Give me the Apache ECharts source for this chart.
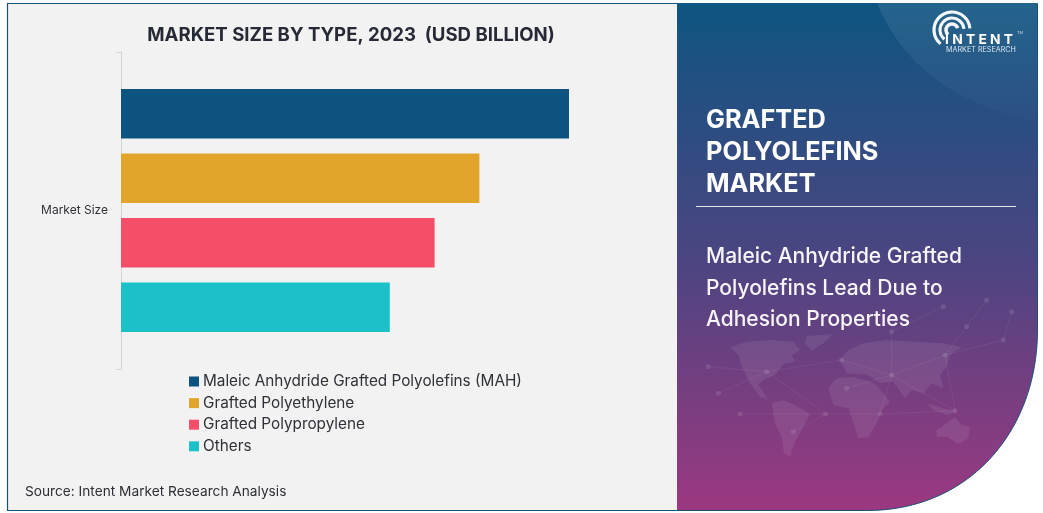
<!DOCTYPE html>
<html><head><meta charset="utf-8">
<style>html,body{margin:0;padding:0;background:#fff}#c{width:1043px;height:513px}</style>
<script src="https://cdn.jsdelivr.net/npm/echarts@6/dist/echarts.min.js"></script></head>
<body><div id="c"></div>
<script>
const categories = ['Market Size'];
const seriesNames = ['Maleic Anhydride Grafted Polyolefins (MAH)','Grafted Polyethylene','Grafted Polypropylene','Others'];
const seriesValues = [10, 8, 7, 6];
const seriesColors = ['#0d5380','#e2a52c','#f44e68','#1bc0c9'];
const chartTitle = 'MARKET SIZE BY TYPE, 2023  (USD BILLION)';
const sourceText = 'Source: Intent Market Research Analysis';
const panelTitle = ['GRAFTED','POLYOLEFINS','MARKET'];
const panelSub = ['Maleic Anhydride Grafted','Polyolefins Lead Due to','Adhesion Properties'];
const FONT = 'Inter';

const z = (x,y)=>[660+x/3,260+y/3];
const bez = (p0,p1,p2,p3,n=40)=>{const o=[];for(let i=0;i<=n;i++){const t=i/n,u=1-t;o.push([0,1].map(k=>u*u*u*p0[k]+3*u*u*t*p1[k]+3*u*t*t*p2[k]+t*t*t*p3[k]));}return o;};
const mapShapes = [
 [[210,262],[260,245],[330,240],[400,245],[420,270],[395,285],[405,305],[370,312],[345,345],[310,360],[295,375],[325,420],[300,410],[270,370],[245,320],[235,285]],
 [[440,228],[520,222],[490,250],[455,272],[435,250]],
 [[335,430],[370,420],[405,435],[450,462],[425,510],[405,545],[390,592],[372,580],[365,530],[345,490]],
 [[505,385],[530,355],[575,350],[625,362],[650,375],[690,425],[665,450],[650,490],[625,530],[595,535],[578,480],[565,445],[520,435]],
 [[540,300],[565,270],[610,250],[680,240],[760,245],[850,250],[905,262],[870,285],[860,320],[840,345],[850,385],[815,370],[790,400],[755,390],[735,415],[700,365],[660,370],[625,345],[560,340]],
 [[830,510],[860,490],[885,470],[905,495],[930,500],[925,535],[895,552],[860,530],[830,530]],
 [[800,430],[850,445],[890,455],[860,465],[820,450]]
];
const nodes = [[145,320],[175,400],[240,462],[320,335],[400,515],[497,462],[545,300],[560,385],[660,462],[695,345],[855,285],[885,452],[1030,240],[980,120],[1055,155],[920,200],[695,215],[850,140]];
const links = [[0,3],[1,3],[3,6],[3,5],[5,8],[5,4],[6,9],[7,9],[8,9],[9,10],[10,11],[10,12],[10,15],[9,16],[15,13],[12,14],[8,11],[2,5],[16,17],[9,11]];

const g = [];
g.push({type:'rect',shape:{x:7.5,y:3.5,width:672,height:507},style:{fill:'#f2f2f2',stroke:'#15537c',lineWidth:1.2}});
const curve = bez([1037.5,330],[1037.5,430],[970,510.5],[867,510.5]);
const panelPts = [[677,3],[1037.5,3]].concat(curve).concat([[677,510.5]]);
g.push({type:'polygon',shape:{points:panelPts},
 style:{fill:new echarts.graphic.LinearGradient(0,0,0,1,[{offset:0,color:'#0e5581'},{offset:.5,color:'#4b4581'},{offset:1,color:'#9c3880'}])}});
g.push({type:'polygon',shape:{points:bez([877,3],[905,70],[960,105],[1037,122]).concat([[1037,3]])},
 style:{fill:new echarts.graphic.LinearGradient(0,0,0,1,[{offset:0,color:'rgba(255,255,255,0.09)'},{offset:1,color:'rgba(255,255,255,0.01)'}])}});
mapShapes.forEach(s=>g.push({type:'polygon',shape:{points:s.map(p=>z(p[0],p[1]))},style:{fill:'rgba(255,255,255,0.08)'}}));
links.forEach(l=>{const a=z(...nodes[l[0]]),b=z(...nodes[l[1]]);g.push({type:'line',shape:{x1:a[0],y1:a[1],x2:b[0],y2:b[1]},style:{stroke:'rgba(255,255,255,0.06)',lineWidth:1}});});
nodes.forEach(n=>{const a=z(...n);g.push({type:'circle',shape:{cx:a[0],cy:a[1],r:2.5},style:{fill:'rgba(255,255,255,0.11)'}});});
g.push({type:'polyline',shape:{points:[[1037.5,3.5]].concat(curve).concat([[677,510.5]])},style:{stroke:'#1d4f78',fill:'none',lineWidth:1}});
g.push({type:'line',shape:{x1:696,y1:206.5,x2:1016,y2:206.5},style:{stroke:'#e8e4ee',lineWidth:1}});
panelTitle.forEach((t,i)=>g.push({type:'text',x:706,y:120+i*32,style:{text:t,fill:'#fff',font:'700 25.3px '+FONT,textVerticalAlign:'middle'}}));
panelSub.forEach((t,i)=>g.push({type:'text',x:706,y:257+i*31.5,style:{text:t,fill:'#f8f5fa',font:'500 21px '+FONT,textVerticalAlign:'middle'}}));
g.push({type:'text',x:25,y:491.5,style:{text:sourceText,fill:'#2d2f36',font:'400 13.7px '+FONT,textVerticalAlign:'middle'}});
// logo
[[6,3.5],[12,3],[18,3.2]].forEach((a,i)=>g.push({type:'arc',shape:{cx:952,cy:30,r:a[0],startAngle:0.72*Math.PI,endAngle:(i==0?1.9:1.97)*Math.PI,clockwise:true},style:{stroke:'#f4f6fa',fill:'none',lineWidth:a[1]}}));
g.push({type:'text',x:945,y:40,style:{text:'I N T E N T',fill:'#fff',font:'700 13.8px '+FONT,textVerticalAlign:'middle'}});
g.push({type:'text',x:946,y:50,style:{text:'MARKET RESEARCH',fill:'#d9e4f0',font:'400 7.2px '+FONT,textVerticalAlign:'middle'}});
g.push({type:'text',x:1017,y:33,style:{text:'TM',fill:'#cfd8e4',font:'400 4px '+FONT,textVerticalAlign:'middle'}});

const chart = echarts.init(document.getElementById('c'),null,{renderer:'canvas'});
chart.setOption({
 animation:false,backgroundColor:'#fff',
 title:{text:chartTitle,left:346,top:21,textAlign:'center',textStyle:{fontFamily:FONT,fontWeight:700,fontSize:18.6,color:'#262a36'}},
 legend:{orient:'vertical',left:184,top:369,itemWidth:10,itemHeight:10,itemGap:6.6,icon:'rect',
   textStyle:{fontFamily:FONT,fontSize:15.3,color:'#2f3138',padding:[0,0,0,-1]}},
 grid:{left:121,top:52,width:448,height:317},
 xAxis:{type:'value',min:0,max:10,show:false},
 yAxis:{type:'category',data:categories,inverse:true,
   axisLine:{lineStyle:{color:'#d4d4d4'}},axisTick:{show:true,length:5,lineStyle:{color:'#d4d4d4'}},
   axisLabel:{fontFamily:FONT,fontSize:12,color:'#2f3138',margin:13}},
 series:seriesNames.map((n,i)=>({type:'bar',name:n,data:[seriesValues[i]],barWidth:49.6,barGap:'30%',itemStyle:{color:seriesColors[i]}})),
 graphic:{elements:g}
});
</script></body></html>
